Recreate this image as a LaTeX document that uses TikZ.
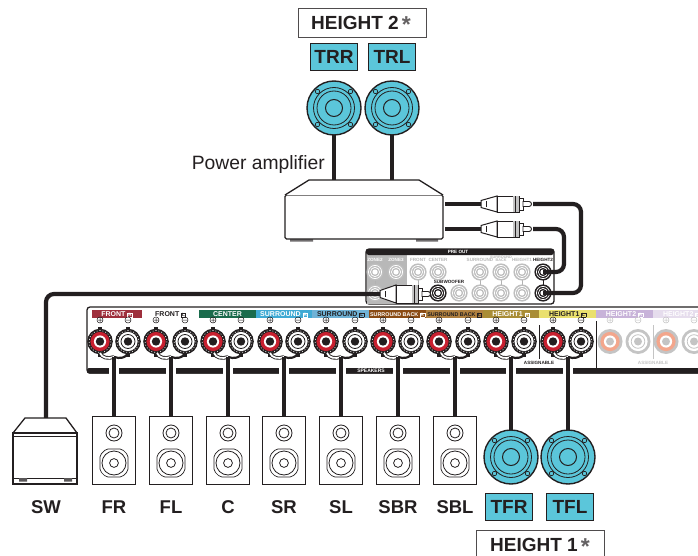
\documentclass[tikz,border=0pt]{standalone}
\usepackage{fontspec}
\setmainfont{Liberation Sans}
\definecolor{tealc}{HTML}{5BC6DA}
\definecolor{ink}{HTML}{231F20}
\definecolor{fadeg}{HTML}{C4C4C4}
\definecolor{jackg}{HTML}{BEBEBE}
\definecolor{zoneg}{HTML}{B8B8B8}
\definecolor{tred}{HTML}{C8202F}
\definecolor{tsalmon}{HTML}{F3A68C}
\newcommand{\fs}[1]{\fontsize{#1}{#1}\selectfont}
\setlength{\fboxsep}{.5pt}
\setlength{\fboxrule}{.4pt}
\tikzset{
  x=1pt,y=-1pt,
  cable/.style={draw=ink,line width=4.2pt},
  ln/.style={draw=ink,line width=1.3pt},
  tag/.style={draw=ink,line width=1.8pt,fill=tealc,minimum width=47pt,minimum height=27pt,inner sep=0pt,text=ink,font=\bfseries\fs{19}},
  heightbox/.style={draw=ink!80,line width=0.9pt,fill=white,minimum width=127pt,minimum height=25pt,inner sep=0pt,text=ink,font=\bfseries\fs{19}},
  spklabel/.style={text=ink,font=\bfseries\fs{18.5},inner sep=0pt},
  spkbox/.style={draw=ink,line width=1.3pt,fill=white,minimum width=43pt,minimum height=68pt,inner sep=0pt},
  barlabel/.style={inner sep=0pt,font=\bfseries\fs{7}},
  tinylab/.style={inner sep=0pt,font=\bfseries\fs{4.6}},
}
\newcommand{\woofer}[2]{%
  \fill[tealc,draw=ink,line width=1.4pt] (#1,#2) circle (27);
  \draw[ink,line width=.8pt] (#1,#2) circle (20.5) (#1,#2) circle (17);
  \draw[ink,line width=1pt] (#1,#2) circle (8.5);
  \foreach \dx/\dy in {-16.5/-16.5,16.5/-16.5,-16.5/16.5,16.5/16.5}
    {\draw[ink,line width=.7pt] (#1+\dx,#2+\dy) circle (2.2);}
}
\newcommand{\termpos}[2]{%
  \fill[ink] (#1-2.4,341.5-15) rectangle (#1+2.4,341.5+15);
  \fill[ink] (#1,341.5) circle (12.8);
  \draw[white,line width=.6pt,dash pattern=on 1pt off 2pt] (#1,341.5) circle (11);
  \fill[#2] (#1,341.5) circle (9.6);
  \fill[white] (#1,341.5) circle (6.1);
  \fill[ink] (#1,341.5) circle (4.2);
}
\newcommand{\termneg}[1]{%
  \fill[ink] (#1-2.4,341.5-15) rectangle (#1+2.4,341.5+15);
  \fill[ink] (#1,341.5) circle (12.8);
  \draw[white,line width=.6pt,dash pattern=on 1pt off 2pt] (#1,341.5) circle (11);
  \fill[white] (#1,341.5) circle (9.6);
  \draw[ink,line width=.8pt] (#1,341.5) circle (7);
  \fill[ink] (#1,341.5) circle (4.2);
}
\newcommand{\fadepos}[1]{%
  \fill[fadeg] (#1,341.5) circle (12.5);
  \fill[tsalmon] (#1,341.5) circle (9.6);
  \fill[white] (#1,341.5) circle (6.1);
  \fill[fadeg] (#1,341.5) circle (4);
}
\newcommand{\fadeneg}[1]{%
  \fill[fadeg] (#1,341.5) circle (12.5);
  \fill[white] (#1,341.5) circle (9.6);
  \draw[fadeg,line width=.8pt] (#1,341.5) circle (6.8);
  \fill[fadeg] (#1,341.5) circle (4);
}
\newcommand{\plusminus}[3]{% color, plus x, minus x
  \draw[#1,line width=.5pt] (#2,320) circle (3) (#2-2,320) -- (#2+2,320) (#2,318) -- (#2,322);
  \draw[#1,line width=.5pt] (#3,320) circle (3) (#3-2,320) -- (#3+2,320);
}
\newcommand{\jack}[3]{% x,y,colour
  \fill[#3] (#1,#2) circle (8.6);
  \draw[white,line width=.7pt] (#1,#2) circle (6.6) (#1,#2) circle (4.6);
  \fill[white] (#1,#2) circle (2.6);
}
\newcommand{\rca}[3]{% x,y,half height
  \begin{scope}[shift={(#1,#2)}]
    \fill[white,draw=ink,line width=1pt] (0,-3.5) -- (16,-#3) -- (16,#3) -- (0,3.5) -- cycle;
    \draw[ink,line width=.7pt] (5,-3) -- (5,3);
    \fill[white,draw=ink,line width=1pt] (16,-#3) rectangle (38,#3);
    \fill[fadeg] (32,-#3) rectangle (38,#3);
    \draw[ink,line width=.5pt] (34,-#3) -- (34,#3);
    \fill[white,draw=ink,line width=.9pt] (38,-6) rectangle (42,6);
    \fill[white,draw=ink,line width=.9pt] (42,-2.5) -- (48,-2.5) arc (-90:90:2.5) -- (42,2.5) -- cycle;
  \end{scope}
}
\newcommand{\bookshelf}[1]{%
  \draw[ink,line width=.8pt] (#1,433) circle (8) (#1,433) circle (5);
  \draw[ink,line width=.7pt,rounded corners=2pt] (#1-8,463-14) -- (#1+8,463-14) -- (#1+14,463-8) -- (#1+14,463+8) -- (#1+8,463+14) -- (#1-8,463+14) -- (#1-14,463+8) -- (#1-14,463-8) -- cycle;
  \draw[ink,line width=.8pt] (#1,463) circle (12) (#1,463) circle (4.4);
}
\newcommand{\labelbar}[4]{% x0,x1,fill,label
  \fill[#3] (#1,310) rectangle (#2,318);
  \node[barlabel,anchor=base] at ({(#1+#2)/2},316.6) {#4};
}
\newcommand{\bx}[1]{\smash{\fbox{\fs{4.6}#1}}}
\newcommand{\stsym}{\,\smash{\raisebox{-3pt}{\textcolor{ink!70}{\fs{23}*}}}}
\newcommand{\cablewires}[1]{%
  \draw[ink,line width=3.6pt] (#1-14,353) .. controls (#1-12,358) and (#1-6,359) .. (#1,357);
  \draw[white,line width=1.8pt] (#1-14,353) .. controls (#1-12,358) and (#1-6,359) .. (#1,357);
  \draw[ink,line width=2.2pt] (#1+14,353) .. controls (#1+12,358) and (#1+6,359) .. (#1,357);
}
\begin{document}
\begin{tikzpicture}
\useasboundingbox (0,0) rectangle (698,556);
\clip (0,0) rectangle (698,556);
\fill[white] (0,0) rectangle (698,556);

% main rear panel
\draw[ln,rounded corners=3pt] (720,307) -- (87,307) -- (87,373) -- (720,373);
\fill[ink,rounded corners=2pt] (87,368) rectangle (720,373.5);
\node[tinylab,text=white,font=\bfseries\fs{5}] at (371,370.7) {SPEAKERS};

% label bars
\definecolor{c1}{HTML}{9E2F3C}\definecolor{c2}{HTML}{1A6B4C}\definecolor{c3}{HTML}{3FAAD4}\definecolor{c4}{HTML}{6FB2D6}\definecolor{c5}{HTML}{8A4B14}\definecolor{c6}{HTML}{B0803F}\definecolor{c7}{HTML}{A98D36}\definecolor{c8}{HTML}{EAE06E}\definecolor{c9}{HTML}{C8B3D9}\definecolor{c10}{HTML}{E6DDED}
\labelbar{92}{142}{c1}{\textcolor{white}{FRONT \bx{R}}}
\labelbar{142}{199}{white}{\textcolor{ink}{FRONT \bx{L}}}
\labelbar{199}{256}{c2}{\textcolor{white}{CENTER}}
\labelbar{256}{312}{c3}{\textcolor{white}{SURROUND \bx{R}}}
\labelbar{312}{369}{c4}{\textcolor{ink}{SURROUND \bx{L}}}
\labelbar{369}{426}{c5}{\textcolor{white}{\fs{5.4}SURROUND BACK \bx{R}}}
\labelbar{426}{483}{c6}{\textcolor{ink}{\fs{5.4}SURROUND BACK \bx{L}}}
\labelbar{483}{539}{c7}{\textcolor{white}{HEIGHT1 \bx{R}}}
\labelbar{539}{596}{c8}{\textcolor{ink}{HEIGHT1 \bx{L}}}
\labelbar{596}{653}{c9}{\textcolor{white}{HEIGHT2 \bx{R}}}
\labelbar{653}{710}{c10}{\textcolor{white}{HEIGHT2 \bx{L}}}

% separators
\draw[ink,line width=.8pt] (539,325) -- (539,359);
\draw[ink,line width=1pt] (596,321) -- (596,368);
\draw[fadeg,line width=1pt] (653,325) -- (653,359);
\node[tinylab,text=ink] at (539,362.5) {ASSIGNABLE};
\node[tinylab,text=fadeg] at (653,362.5) {ASSIGNABLE};

% terminals
\foreach \p/\n in {100/128,156/185,213/241,270/298,326/355,383/411,439/468,496/524,553/581}{
  \plusminus{ink}{\p}{\n}
  \termpos{\p}{tred}
  \termneg{\n}
}
\foreach \p/\n in {610/638,666/694}{
  \plusminus{fadeg}{\p}{\n}
  \fadepos{\p}
  \fadeneg{\n}
}

% pre-out panel
\draw[ln,fill=white,rounded corners=3pt] (366,249) rectangle (554,304);
\fill[zoneg] (367,255) rectangle (407,303.5);
\fill[ink,rounded corners=2.5pt] (366,249) -- (554,249) -- (554,255) -- (366,255) -- cycle;
\node[tinylab,text=white] at (458,252) {PRE OUT};
\foreach \x/\t in {375/ZONE2,396/ZONE3}
  {\node[tinylab,text=white] at (\x,259.5) {\t};}
\foreach \x/\t in {418/FRONT,438/CENTER,480/SURROUND,522/HEIGHT1}
  {\node[tinylab,text=zoneg] at (\x,259.5) {\t};}
\node[tinylab,text=zoneg,align=center,font=\bfseries\fs{3.8}] at (501,258.5) {SURROUND\\[-1pt]BACK};
\node[tinylab,text=ink] at (543,259.5) {HEIGHT2};
\node[tinylab,text=ink] at (449,282) {SUBWOOFER};
\foreach \x in {375,396,418,480,501,522}
  {\draw[white!70!black,line width=.8pt] (\x,272) -- (\x,293);}
\draw[ink,line width=.8pt] (543,272) -- (543,293);
\foreach \x in {375,396,418,438,480,501,522}
  {\jack{\x}{272}{jackg}}
\jack{543}{272}{ink}
\foreach \x in {375,396,459,480,501,522}
  {\jack{\x}{293}{jackg}}
\jack{438}{293}{ink}
\jack{543}{293}{ink}

% speakers below the panel
\foreach \n/\x/\l in {fr/114/FR,fl/171/FL,c/228/C,sr/284/SR,sl/341/SL,sbr/398/SBR,sbl/455/SBL}{
  \coordinate (t\n) at (\x,357);
  \node[spkbox] (\n) at (\x,450.5) {};
  \bookshelf{\x}
  \node[spklabel] at (\x,507) {\l};
  \draw[white,line width=9.5pt] (\x,364) -- (\x,376);
  \cablewires{\x}
  \draw[cable] (t\n) -- (\n.north);
}
\foreach \n/\x in {tfr/511,tfl/568}{
  \coordinate (t\n) at (\x,357);
  \coordinate (w\n) at (\x,432);
  \draw[white,line width=9.5pt] (\x,364) -- (\x,376);
  \cablewires{\x}
  \draw[cable] (t\n) -- (w\n);
  \woofer{\x}{457}
}
\node[tag] (tfrtag) at (509,507) {TFR};
\node[tag] (tfltag) at (570,507) {TFL};
\draw[draw=ink!80,line width=.9pt] (476,530) rectangle (604,560);
\node[inner sep=0pt,text=ink,font=\bfseries\fs{19}] (h1) at (540,544.5) {HEIGHT 1\stsym};

% top speakers
\draw[draw=ink!80,line width=.9pt] (298,8) rectangle (426,37);
\node[inner sep=0pt,text=ink,font=\bfseries\fs{19}] (h2) at (361,23) {HEIGHT 2\stsym};
\node[tag] (trrtag) at (334,57) {TRR};
\node[tag] (trltag) at (392,57) {TRL};
\node[inner sep=0pt,text=ink,font=\fs{19.3},anchor=east] at (325,165) {Power amplifier};

% amplifier
\fill[ink!65] (290,238) rectangle (313,241.5) (416,238) rectangle (438,241.5);
\draw[ln,fill=white,rounded corners=1.5pt] (285,195) -- (443,195) -- (443,239) -- (285,239) -- cycle;
\draw[ln,fill=white,line join=round] (285,195) -- (309,180) -- (419,180) -- (443,195);
\coordinate (ampa) at (334,180);
\coordinate (ampb) at (392,180);
\coordinate (wtrr) at (334,135);
\coordinate (wtrl) at (392,135);
\draw[cable] (wtrr) -- (ampa);
\draw[cable] (wtrl) -- (ampb);
\woofer{334}{108}
\woofer{392}{108}

% rca cables
\coordinate (o1) at (445,204); \coordinate (o2) at (445,229);
\coordinate (p1in) at (481,204); \coordinate (p2in) at (481,229);
\coordinate (p1out) at (533,204); \coordinate (p2out) at (533,229);
\coordinate (j1) at (543,293); \coordinate (j2) at (543,272);
\draw[cable] (o1) -- (p1in);
\draw[cable] (o2) -- (p2in);
\draw[cable,rounded corners=8pt] (p1out) -- (581,204) -- (581,293) -- (j1);
\draw[cable,rounded corners=8pt] (p2out) -- (564,229) -- (564,272) -- (j2);
\rca{481}{204}{8}
\rca{481}{229}{8}

% subwoofer
\coordinate (swtop) at (46,418);
\coordinate (p3in) at (380,294);
\draw[cable,rounded corners=8pt] (p3in) -- (46,294) -- (swtop);
\draw[ln,fill=white,line join=round] (13,433) -- (25,418) -- (66,418) -- (77,433) -- cycle;
\draw[ln,fill=white] (13,433) rectangle (77,484);
\draw[ink,line width=.8pt] (13,436) -- (77,436) (13,478) -- (77,478);
\fill[ink!75] (19,478) rectangle (27,481.5) (64,478) rectangle (72,481.5);
\node[spklabel] at (46,507) {SW};
\rca{380}{294}{9}
\end{tikzpicture}
\end{document}
